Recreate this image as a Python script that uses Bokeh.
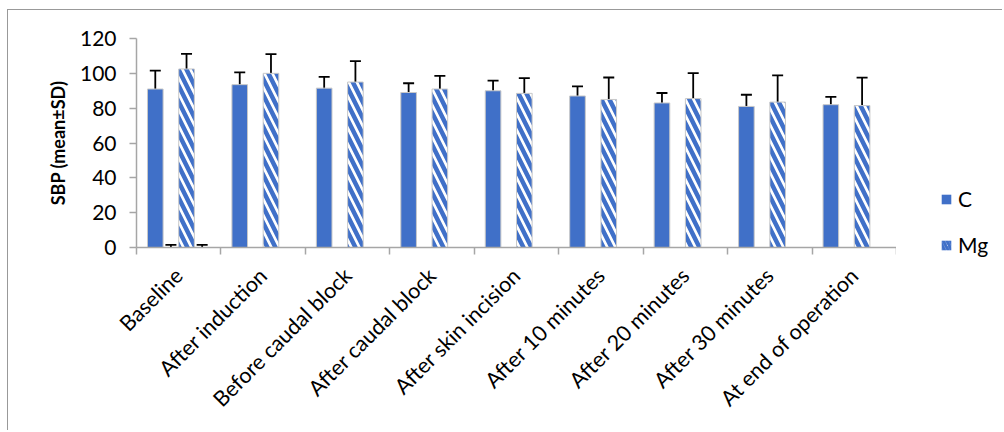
import math
from bokeh.plotting import figure
from bokeh.layouts import row
from bokeh.models import (ColumnDataSource, Legend, LegendItem, Whisker, TeeHead,
                          FixedTicker, Range1d)
from bokeh.transform import dodge
from bokeh.embed import file_html
from bokeh.resources import INLINE

categories = ["Baseline", "After induction", "Before caudal block", "After caudal block",
              "After skin incision", "After 10 minutes", "After 20 minutes",
              "After 30 minutes", "At end of operation"]
c_mean = [91, 93.5, 91.5, 89, 90, 87, 83, 81, 82]
c_sd = [10.5, 7, 6.5, 5.3, 5.8, 5.5, 5.7, 6.7, 4.5]
mg_mean = [102.5, 100, 95, 91, 88.5, 85, 85.5, 83.5, 81.5]
mg_sd = [8.7, 11, 12, 7.5, 8.8, 12.6, 14.6, 15.3, 16]
# two empty helper series (value 0) that only show an error bar at Baseline
aux_mean = [0] * 9
aux_sd = [1.5, 0, 0, 0, 0, 0, 0, 0, 0]
y_ticks = [0, 20, 40, 60, 80, 100, 120]
series_names = ["C", "Mg"]

FONT = "Lato"
BLUE = "#4070c8"

FIG_W, FIG_H = 888, 420          # main canvas starts at page (8, 10)
BL, BT, BR, BB = 128, 28, 0, 183
LEG_W = 106

idx = list(range(len(categories)))
src = ColumnDataSource(dict(
    idx=idx,
    c=c_mean, c_lo=[m - s for m, s in zip(c_mean, c_sd)], c_hi=[m + s for m, s in zip(c_mean, c_sd)],
    mg=mg_mean, mg_lo=[m - s for m, s in zip(mg_mean, mg_sd)], mg_hi=[m + s for m, s in zip(mg_mean, mg_sd)],
))
aux_idx = [i for i, s in zip(idx, aux_sd) if s > 0]
aux_src = ColumnDataSource(dict(
    idx=aux_idx,
    lo=[max(0, aux_mean[i] - aux_sd[i]) for i in aux_idx],
    hi=[aux_mean[i] + aux_sd[i] for i in aux_idx],
))

p = figure(width=FIG_W, height=FIG_H, output_backend="svg", toolbar_location=None,
           x_range=Range1d(-0.5, len(categories) - 0.5), y_range=Range1d(0, 120),
           min_border_left=BL, min_border_right=BR, min_border_top=BT, min_border_bottom=BB)
p.frame_align = False
p.xgrid.visible = False
p.ygrid.visible = False
p.outline_line_color = None

W = 0.185
offs = [-0.2775, -0.0925, 0.0925, 0.2775]

p.vbar(x=dodge("idx", offs[0], range=p.x_range), top="c", width=W, source=src,
       fill_color=BLUE, line_color="#c8c8c8", line_width=1)
p.vbar(x=dodge("idx", offs[2], range=p.x_range), top="mg", width=W, source=src,
       fill_color="white", line_color="#c8c8c8", line_width=1,
       hatch_pattern="left_diagonal_line", hatch_color=BLUE, hatch_weight=4.5, hatch_scale=16)

def whisk(source, off, lo, hi, lower_head=True):
    w = Whisker(source=source, base=dodge("idx", off, range=p.x_range), lower=lo, upper=hi,
                line_color="black", line_width=1.8,
                upper_head=TeeHead(size=11, line_width=1.8, line_color="black"),
                lower_head=TeeHead(size=11, line_width=1.8, line_color="black") if lower_head else None)
    p.add_layout(w)

whisk(src, offs[0], "c_lo", "c_hi")
whisk(src, offs[2], "mg_lo", "mg_hi")
whisk(aux_src, offs[1], "lo", "hi", lower_head=False)
whisk(aux_src, offs[3], "lo", "hi", lower_head=False)

xa = p.xaxis[0]
xa.ticker = FixedTicker(ticks=idx, minor_ticks=[i - 0.5 for i in range(len(categories) + 1)])
xa.major_label_overrides = {i: c for i, c in enumerate(categories)}
xa.major_label_orientation = math.pi / 4
xa.major_tick_out = 0
xa.major_tick_in = 0
xa.minor_tick_out = 7
xa.minor_tick_in = 0
xa.minor_tick_line_color = "#a6a6a6"
xa.minor_tick_line_width = 1.5
xa.axis_line_color = "#a6a6a6"
xa.axis_line_width = 1.5
xa.major_label_text_font = FONT
xa.major_label_text_font_size = "21.5px"
xa.major_label_text_color = "#000000"
xa.major_label_standoff = 17

ya = p.yaxis[0]
ya.ticker = FixedTicker(ticks=y_ticks)
ya.minor_tick_line_color = None
ya.major_tick_out = 7
ya.major_tick_in = 0
ya.major_tick_line_color = "#a6a6a6"
ya.major_tick_line_width = 1.5
ya.axis_line_color = "#a6a6a6"
ya.axis_line_width = 1.5
ya.major_label_text_font = FONT
ya.major_label_text_font_size = "21px"
ya.major_label_text_color = "#000000"
ya.major_label_standoff = 13
ya.axis_label = "SBP (mean±SD)"
ya.axis_label_text_font = FONT
ya.axis_label_text_font_style = "bold"
ya.axis_label_text_font_size = "18px"
ya.axis_label_text_color = "#000000"
ya.axis_label_standoff = 8

# legend panel (separate canvas to the right of the plot area)
lg = figure(width=LEG_W, height=FIG_H, output_backend="svg", toolbar_location=None,
            x_range=Range1d(0, 1), y_range=Range1d(0, 1),
            min_border_left=0, min_border_right=0, min_border_top=0, min_border_bottom=0)
lg.frame_align = False
lg.axis.visible = False
lg.grid.visible = False
lg.outline_line_color = None
# swatch renderers for the legend only (placed outside the visible range)
swatch = ColumnDataSource(dict(x=[-10], top=[-10]))
lr_c = lg.vbar(x="x", top="top", width=0.1, source=swatch, fill_color=BLUE, line_color=None)
lr_mg = lg.vbar(x="x", top="top", width=0.1, source=swatch, fill_color="white", line_color=None,
                hatch_pattern="left_diagonal_line", hatch_color=BLUE, hatch_weight=3, hatch_scale=7)
legend = Legend(items=[LegendItem(label=series_names[0], renderers=[lr_c]),
                       LegendItem(label=series_names[1], renderers=[lr_mg])],
                location=(44, 173), orientation="vertical",
                glyph_width=12, glyph_height=12, label_height=24, label_standoff=6, spacing=21,
                padding=0, margin=0, border_line_alpha=0, background_fill_alpha=0,
                label_text_font=FONT, label_text_font_size="21px", label_text_color="#000000")
lg.add_layout(legend)

layout = row(p, lg)
layout.styles = {"margin-left": "7px", "margin-top": "9px",
                 "border-left": "1px solid #999999", "border-top": "1px solid #999999"}

open("out.html", "w").write(file_html(layout, INLINE))
